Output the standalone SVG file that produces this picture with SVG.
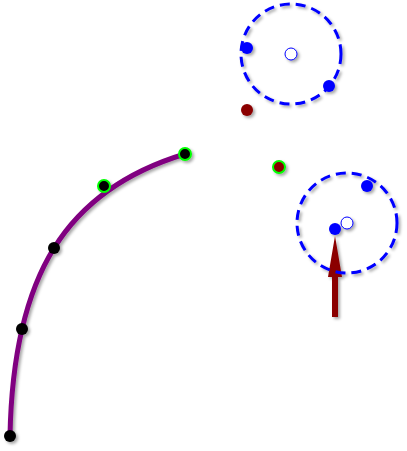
<svg xmlns="http://www.w3.org/2000/svg" width="407" height="451" viewBox="0 0 407 451">
<defs>
<filter id="sh" x="-50%" y="-50%" width="200%" height="200%">
<feDropShadow dx="2" dy="2" stdDeviation="1.5" flood-color="#000" flood-opacity="0.35"/>
</filter>
</defs>
<style>
.ring{fill:none;stroke:#0000ff;stroke-width:3;stroke-dasharray:10 6}
.ctr{fill:#fff;stroke:#0000ff;stroke-width:1}
.bd{fill:#0000ff}
.rd{fill:#8b0000}
.kd{fill:#000}
.gd{stroke:#00ff00;stroke-width:2}
</style>
<g filter="url(#sh)">
<g id="connectors">
<path d="M10,436 C13,275 66,190 185,154" fill="none" stroke="#800080" stroke-width="5"/>
<path d="M332,317 L332,277 L328,277 L335,236 L342,277 L338,277 L338,317 Z" fill="#8b0000"/>
</g>
<g id="ring1"><circle class="ring" cx="291" cy="54" r="50"/><circle class="ctr" cx="291" cy="54" r="6"/></g>
<g id="ring2"><circle class="ring" cx="347" cy="223" r="50"/><circle class="ctr" cx="347" cy="223" r="6"/></g>
<g id="b1"><circle class="bd" cx="247" cy="48" r="6"/></g>
<g id="b2"><circle class="bd" cx="329" cy="86" r="6"/></g>
<g id="b3"><circle class="bd" cx="367" cy="186" r="6"/></g>
<g id="b4"><circle class="bd" cx="335" cy="229" r="6"/></g>
<g id="r1"><circle class="rd" cx="247" cy="110" r="6"/></g>
<g id="r2"><circle class="rd gd" cx="279" cy="167" r="6"/></g>
<g id="k1"><circle class="kd" cx="10" cy="436" r="6"/></g>
<g id="k2"><circle class="kd" cx="22" cy="329" r="6"/></g>
<g id="k3"><circle class="kd" cx="54" cy="248" r="6"/></g>
<g id="k4"><circle class="kd gd" cx="104" cy="186" r="6"/></g>
<g id="k5"><circle class="kd gd" cx="185" cy="154" r="6"/></g>
</g>
</svg>
